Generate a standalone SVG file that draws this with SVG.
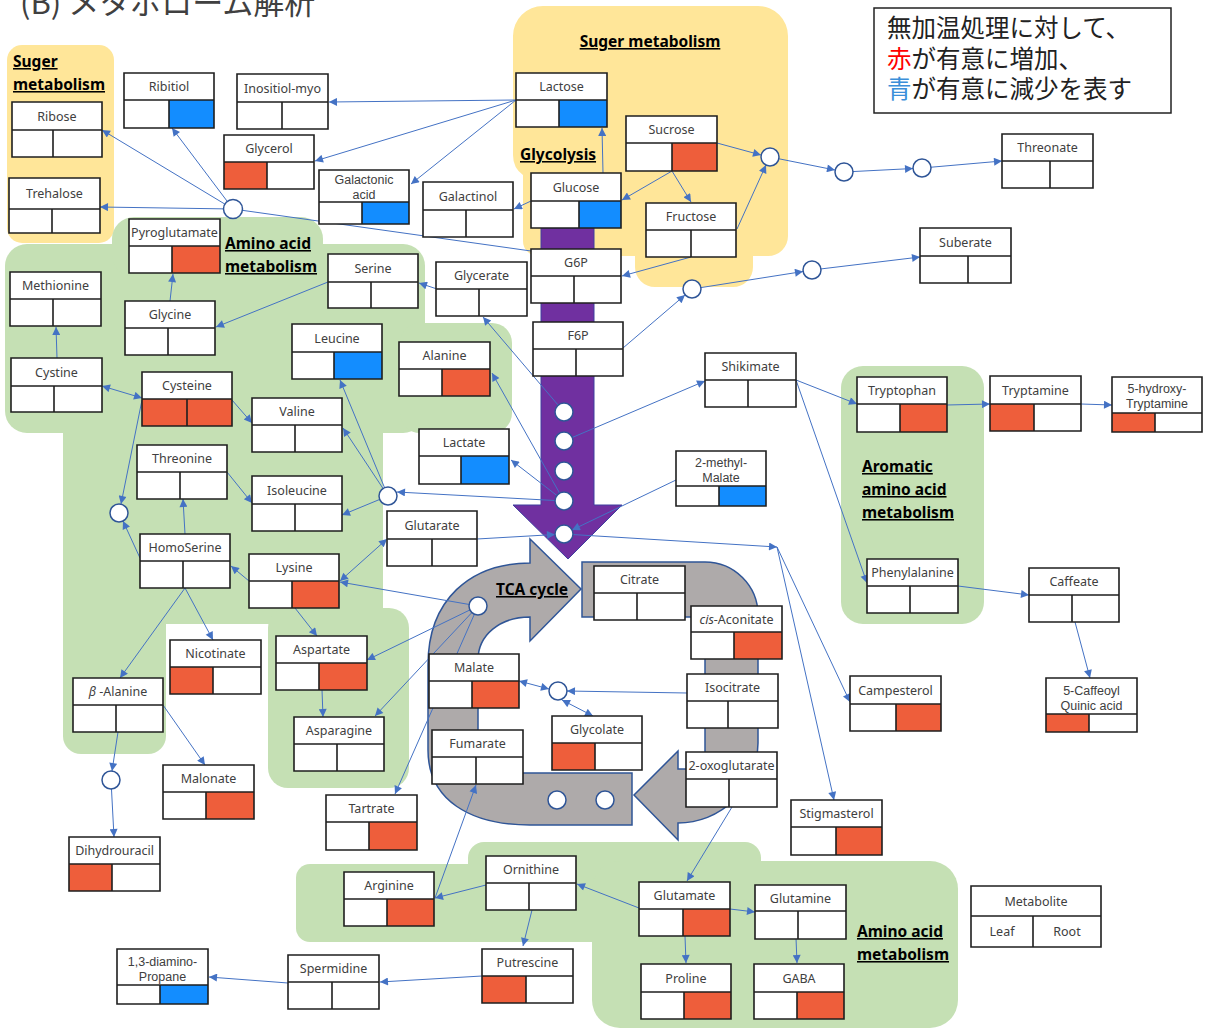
<svg xmlns="http://www.w3.org/2000/svg" width="1205" height="1030" viewBox="0 0 1205 1030">
<defs>
<marker id="ah" viewBox="0 0 10 10" refX="10" refY="5" markerWidth="10" markerHeight="8" markerUnits="userSpaceOnUse" orient="auto-start-reverse"><path d="M0,0 L10,5 L0,10 z" fill="#4472C4"/></marker>
</defs>
<style>
.t{font-family:"Noto Sans","DejaVu Sans",sans-serif;font-size:12.5px;fill:#404040;text-anchor:middle}
.t2{font-family:"Liberation Sans",Arial,sans-serif;font-size:12.5px;fill:#404040;text-anchor:middle}
.w{fill:#fff}
.o{fill:none;stroke:#1f1f1f;stroke-width:1.6}
.r{fill:#EE5E3B}
.u{fill:#138DFF}
.c line{stroke:#4472C4;stroke-width:1;marker-end:url(#ah)}
.c line.bi{marker-start:url(#ah)}
.c line.n{marker-end:none}
.j circle{fill:#fff;stroke:#2F5597;stroke-width:1.5}
.g{font-family:"Noto Sans","DejaVu Sans",sans-serif;font-size:15.5px;font-weight:bold;fill:#000;text-decoration:underline}
.gy{fill:#FFE699}
.gg{fill:#C5E0B4}
.jp{font-family:"Noto Sans CJK JP","Noto Sans CJK SC",sans-serif}
</style>
<rect width="1205" height="1030" fill="#fff"/>
<text class="jp" x="20" y="14" font-size="31" fill="#404040">(B) メタボローム解析</text>
<g id="legend-note">
<rect x="874" y="8" width="297" height="105" fill="#fff" stroke="#222" stroke-width="1.5"/>
<text class="jp" x="887" y="37" font-size="24.5" fill="#222">無加温処理に対して、</text>
<text class="jp" x="887" y="68" font-size="24.5" fill="#222"><tspan fill="#FF0000">赤</tspan>が有意に増加、</text>
<text class="jp" x="887" y="98" font-size="24.5" fill="#222"><tspan fill="#3B8FD9">青</tspan>が有意に減少を表す</text>
</g>
<g id="regions">
<rect class="gy" x="7" y="45" width="107" height="198" rx="15"/>
<path class="gy" d="M543,6 H758 A30,30 0 0 1 788,36 V236 A20,20 0 0 1 768,256 H753 V267 A20,20 0 0 1 733,287 H655 A20,20 0 0 1 635,267 V256 H538 A15,15 0 0 1 523,241 V175 Q513,168 513,155 V36 A30,30 0 0 1 543,6 Z"/>
<rect class="gg" x="5" y="244" width="420" height="189" rx="22"/>
<rect class="gg" x="112" y="217" width="211" height="60" rx="22"/>
<rect class="gg" x="400" y="323" width="112" height="110" rx="20"/>
<rect class="gg" x="63" y="420" width="320" height="204"/>
<rect class="gg" x="63" y="600" width="103" height="154" rx="18"/>
<rect class="gg" x="268" y="608" width="141" height="180" rx="20"/>
<rect class="gg" x="841" y="366" width="143" height="258" rx="22"/>
<rect class="gg" x="296" y="864" width="300" height="78" rx="14"/>
<rect class="gg" x="468" y="842" width="293" height="100" rx="16"/>
<rect class="gg" x="592" y="861" width="366" height="167" rx="28"/>
</g>
<g id="group-labels">
<text class="g" x="13" y="67">Suger</text>
<text class="g" x="13" y="90">metabolism</text>
<text class="g" x="650" y="47" text-anchor="middle">Suger metabolism</text>
<text class="g" x="520" y="160">Glycolysis</text>
<text class="g" x="225" y="249">Amino acid</text>
<text class="g" x="225" y="272">metabolism</text>
<text class="g" x="862" y="472">Aromatic</text>
<text class="g" x="862" y="495">amino acid</text>
<text class="g" x="862" y="518">metabolism</text>
<text class="g" x="857" y="937">Amino acid</text>
<text class="g" x="857" y="960">metabolism</text>
</g>
<g id="pathway-shapes">
<path d="M530,539 L581,589 L530,641 V617 C500,617 478,635 478,660 V773 H632 V825 H530 C470,825 428,800 428,750 V665 C428,600 470,563 530,563 Z" fill="#AEAAAA" stroke="#2F5597" stroke-width="1.5"/>
<path d="M582,562 H705 A53,53 0 0 1 758,615 V743 A80,80 0 0 1 678,823 V840 L634,795 L678,751 V769 H705 V617 H582 Z" fill="#AEAAAA" stroke="#2F5597" stroke-width="1.5"/>
<path d="M541,228 H594 V505 H622 L568,559 L513,505 H541 Z" fill="#7030A0" stroke="#3F3F9F" stroke-width="1"/>
<text class="g" x="496" y="595">TCA cycle</text>
</g>
<g id="connectors" class="c">
<line x1="233" y1="209" x2="102" y2="130"/>
<line x1="233" y1="209" x2="172" y2="128"/>
<line x1="233" y1="209" x2="100" y2="207"/>
<line class="n" x1="531" y1="251" x2="233" y2="209"/>
<line x1="516" y1="100" x2="329" y2="102"/>
<line x1="516" y1="100" x2="315" y2="161"/>
<line x1="516" y1="100" x2="411" y2="184"/>
<line x1="603" y1="173" x2="602" y2="128"/>
<line x1="531" y1="201" x2="514" y2="209"/>
<line x1="672" y1="171" x2="622" y2="200"/>
<line x1="672" y1="171" x2="691" y2="202"/>
<line x1="717" y1="143" x2="761" y2="155"/>
<line x1="737" y1="229" x2="766" y2="165"/>
<line x1="770" y1="157" x2="835" y2="170"/>
<line x1="844" y1="172" x2="913" y2="168.5"/>
<line x1="922" y1="168" x2="1002" y2="161"/>
<line x1="691" y1="257" x2="622" y2="276"/>
<line x1="623" y1="348" x2="685" y2="295"/>
<line x1="692" y1="289" x2="803" y2="271.5"/>
<line x1="812" y1="270" x2="920" y2="257"/>
<line x1="437" y1="289" x2="419" y2="283"/>
<line x1="328" y1="282" x2="216" y2="327"/>
<line x1="170" y1="301" x2="173" y2="274"/>
<line x1="564" y1="412" x2="483" y2="317"/>
<line x1="564" y1="501" x2="492" y2="373"/>
<line x1="564" y1="501" x2="511" y2="460"/>
<line x1="564" y1="501" x2="397" y2="492"/>
<line x1="388" y1="496" x2="340" y2="380"/>
<line x1="388" y1="496" x2="343" y2="428"/>
<line x1="388" y1="496" x2="342" y2="515"/>
<line x1="232" y1="400" x2="252" y2="423"/>
<line class="bi" x1="102" y1="386" x2="142" y2="398"/>
<line x1="57" y1="358" x2="56" y2="327"/>
<line x1="142" y1="400" x2="121" y2="504"/>
<line x1="140" y1="558" x2="123" y2="521"/>
<line x1="185" y1="534" x2="183" y2="499"/>
<line x1="227" y1="472" x2="252" y2="503"/>
<line x1="249" y1="581" x2="231" y2="566"/>
<line class="bi" x1="340" y1="581" x2="387" y2="539"/>
<line x1="478" y1="606" x2="340" y2="582"/>
<line x1="295" y1="608" x2="317" y2="636"/>
<line x1="478" y1="606" x2="367" y2="660"/>
<line x1="478" y1="606" x2="375" y2="716"/>
<line x1="478" y1="606" x2="395" y2="794"/>
<line x1="322" y1="690" x2="323" y2="717"/>
<line x1="185" y1="588" x2="213" y2="640"/>
<line x1="185" y1="588" x2="120" y2="678"/>
<line x1="163" y1="705" x2="205" y2="765"/>
<line x1="118" y1="732" x2="112" y2="771"/>
<line x1="111" y1="780" x2="114" y2="837"/>
<line x1="477" y1="539" x2="555" y2="534.5"/>
<line x1="676" y1="480" x2="572" y2="530"/>
<line x1="564" y1="441" x2="705" y2="381"/>
<line x1="564" y1="534" x2="777" y2="547"/>
<line x1="777" y1="547" x2="850" y2="702"/>
<line x1="777" y1="547" x2="834" y2="800"/>
<line x1="796" y1="380" x2="857" y2="404"/>
<line x1="796" y1="380" x2="867" y2="583"/>
<line x1="947" y1="405" x2="990" y2="404"/>
<line x1="1081" y1="404" x2="1112" y2="405"/>
<line x1="958" y1="586" x2="1029" y2="595"/>
<line x1="1075" y1="622" x2="1090" y2="678"/>
<line class="bi" x1="519" y1="681" x2="549" y2="689"/>
<line x1="687" y1="693" x2="567" y2="691"/>
<line class="bi" x1="562" y1="700" x2="593" y2="716"/>
<line x1="486" y1="885" x2="435" y2="898"/>
<line x1="435" y1="898" x2="476" y2="785"/>
<line x1="639" y1="908" x2="577" y2="884"/>
<line x1="532" y1="910" x2="523" y2="946"/>
<line x1="482" y1="976" x2="380" y2="982"/>
<line x1="288" y1="983" x2="209" y2="977"/>
<line x1="732" y1="807" x2="687" y2="881"/>
<line x1="730" y1="909" x2="755" y2="912"/>
<line x1="685" y1="936" x2="686" y2="963"/>
<line x1="796" y1="938" x2="797" y2="963"/>
</g>
<g id="junctions" class="j">
<circle cx="233" cy="209" r="9.5"/>
<circle cx="770" cy="157" r="9"/>
<circle cx="844" cy="172" r="9"/>
<circle cx="922" cy="168" r="9"/>
<circle cx="692" cy="289" r="9"/>
<circle cx="812" cy="270" r="9"/>
<circle cx="388" cy="496" r="9"/>
<circle cx="119" cy="513" r="9"/>
<circle cx="111" cy="780" r="9"/>
<circle cx="478" cy="606" r="9"/>
<circle cx="558" cy="691" r="9"/>
<circle cx="564" cy="412" r="9"/>
<circle cx="564" cy="441" r="9"/>
<circle cx="564" cy="471" r="9"/>
<circle cx="564" cy="501" r="9"/>
<circle cx="564" cy="534" r="9"/>
<circle cx="557" cy="800" r="9"/>
<circle cx="605" cy="800" r="9"/>
</g>
<g id="nodes">
<g id="ribose"><rect class="w" x="12" y="102" width="90" height="55"/><path class="o" d="M12,102h90v55h-90zM12,130h90M53,130V157"/><text class="t" x="57" y="120.5">Ribose</text></g>
<g id="trehalose"><rect class="w" x="9" y="178" width="91" height="55"/><path class="o" d="M9,178h91v55h-91zM9,209h91M52,209V233"/><text class="t" x="54.5" y="198">Trehalose</text></g>
<g id="ribitiol"><rect class="w" x="124" y="73" width="90" height="55"/><rect class="u" x="169" y="100" width="45" height="28"/><path class="o" d="M124,73h90v55h-90zM124,100h90M169,100V128"/><text class="t" x="169" y="91">Ribitiol</text></g>
<g id="inositiol"><rect class="w" x="237" y="74" width="91" height="55"/><path class="o" d="M237,74h91v55h-91zM237,102h91M282,102V129"/><text class="t" x="282.5" y="92.5">Inositiol-myo</text></g>
<g id="glycerol"><rect class="w" x="224" y="135" width="90" height="54"/><rect class="r" x="224" y="162" width="43" height="27"/><path class="o" d="M224,135h90v54h-90zM224,162h90M267,162V189"/><text class="t" x="269" y="153">Glycerol</text></g>
<g id="galactonic"><rect class="w" x="319" y="170" width="90" height="54"/><rect class="u" x="362" y="202" width="47" height="22"/><path class="o" d="M319,170h90v54h-90zM319,202h90M362,202V224"/><text class="t2" x="364" y="184">Galactonic</text><text class="t2" x="364" y="198.5">acid</text></g>
<g id="pyroglutamate"><rect class="w" x="129" y="219" width="91" height="54"/><rect class="r" x="172" y="246" width="48" height="27"/><path class="o" d="M129,219h91v54h-91zM129,246h91M172,246V273"/><text class="t" x="174.5" y="237">Pyroglutamate</text></g>
<g id="methionine"><rect class="w" x="10" y="272" width="91" height="54"/><path class="o" d="M10,272h91v54h-91zM10,299h91M53,299V326"/><text class="t" x="55.5" y="290">Methionine</text></g>
<g id="glycine"><rect class="w" x="125" y="301" width="90" height="54"/><path class="o" d="M125,301h90v54h-90zM125,328h90M168,328V355"/><text class="t" x="170" y="319">Glycine</text></g>
<g id="serine"><rect class="w" x="328" y="254" width="90" height="54"/><path class="o" d="M328,254h90v54h-90zM328,282h90M371,282V308"/><text class="t" x="373" y="272.5">Serine</text></g>
<g id="leucine"><rect class="w" x="292" y="324" width="90" height="55"/><rect class="u" x="334" y="352" width="48" height="27"/><path class="o" d="M292,324h90v55h-90zM292,352h90M334,352V379"/><text class="t" x="337" y="342.5">Leucine</text></g>
<g id="lactose"><rect class="w" x="516" y="73" width="91" height="54"/><rect class="u" x="559" y="100" width="48" height="27"/><path class="o" d="M516,73h91v54h-91zM516,100h91M559,100V127"/><text class="t" x="561.5" y="91">Lactose</text></g>
<g id="sucrose"><rect class="w" x="626" y="116" width="91" height="55"/><rect class="r" x="672" y="143" width="45" height="28"/><path class="o" d="M626,116h91v55h-91zM626,143h91M672,143V171"/><text class="t" x="671.5" y="134">Sucrose</text></g>
<g id="glucose"><rect class="w" x="531" y="173" width="90" height="55"/><rect class="u" x="579" y="201" width="42" height="27"/><path class="o" d="M531,173h90v55h-90zM531,201h90M579,201V228"/><text class="t" x="576" y="191.5">Glucose</text></g>
<g id="galactinol"><rect class="w" x="423" y="182" width="90" height="55"/><path class="o" d="M423,182h90v55h-90zM423,210h90M466,210V237"/><text class="t" x="468" y="200.5">Galactinol</text></g>
<g id="fructose"><rect class="w" x="646" y="203" width="90" height="54"/><path class="o" d="M646,203h90v54h-90zM646,230h90M691,230V257"/><text class="t" x="691" y="221">Fructose</text></g>
<g id="g6p"><rect class="w" x="531" y="249" width="90" height="54"/><path class="o" d="M531,249h90v54h-90zM531,276h90M574,276V303"/><text class="t" x="576" y="267">G6P</text></g>
<g id="glycerate"><rect class="w" x="436" y="262" width="91" height="54"/><path class="o" d="M436,262h91v54h-91zM436,289h91M479,289V316"/><text class="t" x="481.5" y="280">Glycerate</text></g>
<g id="f6p"><rect class="w" x="533" y="322" width="90" height="54"/><path class="o" d="M533,322h90v54h-90zM533,349h90M576,349V376"/><text class="t" x="578" y="340">F6P</text></g>
<g id="threonate"><rect class="w" x="1002" y="134" width="91" height="54"/><path class="o" d="M1002,134h91v54h-91zM1002,161h91M1050,161V188"/><text class="t" x="1047.5" y="152">Threonate</text></g>
<g id="suberate"><rect class="w" x="920" y="228" width="91" height="55"/><path class="o" d="M920,228h91v55h-91zM920,256h91M968,256V283"/><text class="t" x="965.5" y="246.5">Suberate</text></g>
<g id="cystine"><rect class="w" x="11" y="358" width="91" height="54"/><path class="o" d="M11,358h91v54h-91zM11,386h91M54,386V412"/><text class="t" x="56.5" y="376.5">Cystine</text></g>
<g id="cysteine"><rect class="w" x="142" y="372" width="90" height="54"/><rect class="r" x="142" y="399" width="90" height="27"/><path class="o" d="M142,372h90v54h-90zM142,399h90M187,399V426"/><text class="t" x="187" y="390">Cysteine</text></g>
<g id="valine"><rect class="w" x="252" y="398" width="90" height="54"/><path class="o" d="M252,398h90v54h-90zM252,425h90M295,425V452"/><text class="t" x="297" y="416">Valine</text></g>
<g id="threonine"><rect class="w" x="137" y="445" width="90" height="54"/><path class="o" d="M137,445h90v54h-90zM137,472h90M180,472V499"/><text class="t" x="182" y="463">Threonine</text></g>
<g id="isoleucine"><rect class="w" x="252" y="476" width="90" height="55"/><path class="o" d="M252,476h90v55h-90zM252,504h90M295,504V531"/><text class="t" x="297" y="494.5">Isoleucine</text></g>
<g id="homoserine"><rect class="w" x="140" y="534" width="90" height="54"/><path class="o" d="M140,534h90v54h-90zM140,561h90M183,561V588"/><text class="t" x="185" y="552">HomoSerine</text></g>
<g id="lysine"><rect class="w" x="249" y="554" width="90" height="54"/><rect class="r" x="292" y="581" width="47" height="27"/><path class="o" d="M249,554h90v54h-90zM249,581h90M292,581V608"/><text class="t" x="294" y="572">Lysine</text></g>
<g id="glutarate"><rect class="w" x="387" y="511" width="90" height="55"/><path class="o" d="M387,511h90v55h-90zM387,539h90M432,539V566"/><text class="t" x="432" y="529.5">Glutarate</text></g>
<g id="nicotinate"><rect class="w" x="170" y="640" width="91" height="54"/><rect class="r" x="170" y="667" width="43" height="27"/><path class="o" d="M170,640h91v54h-91zM170,667h91M213,667V694"/><text class="t" x="215.5" y="658">Nicotinate</text></g>
<g id="aspartate"><rect class="w" x="276" y="636" width="91" height="54"/><rect class="r" x="319" y="663" width="48" height="27"/><path class="o" d="M276,636h91v54h-91zM276,663h91M319,663V690"/><text class="t" x="321.5" y="654">Aspartate</text></g>
<g id="alanine"><rect class="w" x="399" y="342" width="91" height="54"/><rect class="r" x="442" y="369" width="48" height="27"/><path class="o" d="M399,342h91v54h-91zM399,369h91M442,369V396"/><text class="t" x="444.5" y="360">Alanine</text></g>
<g id="shikimate"><rect class="w" x="705" y="353" width="91" height="54"/><path class="o" d="M705,353h91v54h-91zM705,380h91M748,380V407"/><text class="t" x="750.5" y="371">Shikimate</text></g>
<g id="lactate"><rect class="w" x="419" y="429" width="90" height="55"/><rect class="u" x="461" y="456" width="48" height="28"/><path class="o" d="M419,429h90v55h-90zM419,456h90M461,456V484"/><text class="t" x="464" y="447">Lactate</text></g>
<g id="methylmalate"><rect class="w" x="676" y="451" width="90" height="55"/><rect class="u" x="719" y="486" width="47" height="20"/><path class="o" d="M676,451h90v55h-90zM676,486h90M719,486V506"/><text class="t2" x="721" y="467">2-methyl-</text><text class="t2" x="721" y="482">Malate</text></g>
<g id="citrate"><rect class="w" x="594" y="566" width="91" height="54"/><path class="o" d="M594,566h91v54h-91zM594,593h91M637,593V620"/><text class="t" x="639.5" y="584">Citrate</text></g>
<g id="cisaconitate"><rect class="w" x="691" y="606" width="91" height="53"/><rect class="r" x="734" y="632" width="48" height="27"/><path class="o" d="M691,606h91v53h-91zM691,632h91M734,632V659"/><text class="t" x="736.5" y="623.5"><tspan font-style="italic">cis</tspan>-Aconitate</text></g>
<g id="malate"><rect class="w" x="429" y="654" width="90" height="54"/><rect class="r" x="472" y="681" width="47" height="27"/><path class="o" d="M429,654h90v54h-90zM429,681h90M472,681V708"/><text class="t" x="474" y="672">Malate</text></g>
<g id="isocitrate"><rect class="w" x="687" y="674" width="91" height="54"/><path class="o" d="M687,674h91v54h-91zM687,701h91M728,701V728"/><text class="t" x="732.5" y="692">Isocitrate</text></g>
<g id="glycolate"><rect class="w" x="552" y="716" width="90" height="54"/><rect class="r" x="552" y="743" width="43" height="27"/><path class="o" d="M552,716h90v54h-90zM552,743h90M595,743V770"/><text class="t" x="597" y="734">Glycolate</text></g>
<g id="fumarate"><rect class="w" x="432" y="730" width="91" height="54"/><path class="o" d="M432,730h91v54h-91zM432,757h91M476,757V784"/><text class="t" x="477.5" y="748">Fumarate</text></g>
<g id="oxoglutarate"><rect class="w" x="686" y="752" width="91" height="55"/><path class="o" d="M686,752h91v55h-91zM686,779h91M729,779V807"/><text class="t" x="731.5" y="770">2-oxoglutarate</text></g>
<g id="tryptophan"><rect class="w" x="857" y="377" width="90" height="55"/><rect class="r" x="900" y="404" width="47" height="28"/><path class="o" d="M857,377h90v55h-90zM857,404h90M900,404V432"/><text class="t" x="902" y="395">Tryptophan</text></g>
<g id="tryptamine"><rect class="w" x="990" y="376" width="91" height="55"/><rect class="r" x="990" y="404" width="44" height="27"/><path class="o" d="M990,376h91v55h-91zM990,404h91M1034,404V431"/><text class="t" x="1035.5" y="394.5">Tryptamine</text></g>
<g id="hydroxytryptamine"><rect class="w" x="1112" y="377" width="90" height="55"/><rect class="r" x="1112" y="413" width="43" height="19"/><path class="o" d="M1112,377h90v55h-90zM1112,413h90M1155,413V432"/><text class="t2" x="1157" y="393">5-hydroxy-</text><text class="t2" x="1157" y="408">Tryptamine</text></g>
<g id="phenylalanine"><rect class="w" x="867" y="559" width="91" height="54"/><path class="o" d="M867,559h91v54h-91zM867,586h91M910,586V613"/><text class="t" x="912.5" y="577">Phenylalanine</text></g>
<g id="caffeate"><rect class="w" x="1029" y="568" width="90" height="54"/><path class="o" d="M1029,568h90v54h-90zM1029,595h90M1072,595V622"/><text class="t" x="1074" y="586">Caffeate</text></g>
<g id="campesterol"><rect class="w" x="850" y="676" width="91" height="55"/><rect class="r" x="896" y="704" width="45" height="27"/><path class="o" d="M850,676h91v55h-91zM850,704h91M896,704V731"/><text class="t" x="895.5" y="694.5">Campesterol</text></g>
<g id="caffeoylquinic"><rect class="w" x="1046" y="678" width="91" height="54"/><rect class="r" x="1046" y="714" width="43" height="18"/><path class="o" d="M1046,678h91v54h-91zM1046,714h91M1089,714V732"/><text class="t2" x="1091.5" y="694.5">5-Caffeoyl</text><text class="t2" x="1091.5" y="709.5">Quinic acid</text></g>
<g id="stigmasterol"><rect class="w" x="791" y="800" width="91" height="55"/><rect class="r" x="836" y="827" width="46" height="28"/><path class="o" d="M791,800h91v55h-91zM791,827h91M836,827V855"/><text class="t" x="836.5" y="818">Stigmasterol</text></g>
<g id="glutamine"><rect class="w" x="755" y="885" width="91" height="54"/><path class="o" d="M755,885h91v54h-91zM755,911h91M798,911V939"/><text class="t" x="800.5" y="902.5">Glutamine</text></g>
<g id="gaba"><rect class="w" x="754" y="964" width="90" height="55"/><rect class="r" x="797" y="992" width="47" height="27"/><path class="o" d="M754,964h90v55h-90zM754,992h90M797,992V1019"/><text class="t" x="799" y="982.5">GABA</text></g>
<g id="ornithine"><rect class="w" x="486" y="856" width="90" height="54"/><path class="o" d="M486,856h90v54h-90zM486,883h90M529,883V910"/><text class="t" x="531" y="874">Ornithine</text></g>
<g id="glutamate"><rect class="w" x="639" y="882" width="91" height="54"/><rect class="r" x="683" y="909" width="47" height="27"/><path class="o" d="M639,882h91v54h-91zM639,909h91M683,909V936"/><text class="t" x="684.5" y="900">Glutamate</text></g>
<g id="putrescine"><rect class="w" x="482" y="949" width="91" height="54"/><rect class="r" x="482" y="976" width="44" height="27"/><path class="o" d="M482,949h91v54h-91zM482,976h91M526,976V1003"/><text class="t" x="527.5" y="967">Putrescine</text></g>
<g id="proline"><rect class="w" x="641" y="964" width="90" height="55"/><rect class="r" x="684" y="992" width="47" height="27"/><path class="o" d="M641,964h90v55h-90zM641,992h90M684,992V1019"/><text class="t" x="686" y="982.5">Proline</text></g>
<g id="arginine"><rect class="w" x="344" y="872" width="90" height="54"/><rect class="r" x="387" y="899" width="47" height="27"/><path class="o" d="M344,872h90v54h-90zM344,899h90M387,899V926"/><text class="t" x="389" y="890">Arginine</text></g>
<g id="betaalanine"><rect class="w" x="73" y="678" width="90" height="54"/><path class="o" d="M73,678h90v54h-90zM73,705h90M116,705V732"/><text class="t" x="118" y="696"><tspan font-style="italic">β</tspan> -Alanine</text></g>
<g id="malonate"><rect class="w" x="163" y="765" width="91" height="54"/><rect class="r" x="206" y="792" width="48" height="27"/><path class="o" d="M163,765h91v54h-91zM163,792h91M206,792V819"/><text class="t" x="208.5" y="783">Malonate</text></g>
<g id="dihydrouracil"><rect class="w" x="69" y="837" width="91" height="54"/><rect class="r" x="69" y="864" width="43" height="27"/><path class="o" d="M69,837h91v54h-91zM69,864h91M112,864V891"/><text class="t" x="114.5" y="855">Dihydrouracil</text></g>
<g id="asparagine"><rect class="w" x="294" y="717" width="90" height="54"/><path class="o" d="M294,717h90v54h-90zM294,744h90M337,744V771"/><text class="t" x="339" y="735">Asparagine</text></g>
<g id="tartrate"><rect class="w" x="326" y="795" width="91" height="55"/><rect class="r" x="369" y="822" width="48" height="28"/><path class="o" d="M326,795h91v55h-91zM326,822h91M369,822V850"/><text class="t" x="371.5" y="813">Tartrate</text></g>
<g id="diaminopropane"><rect class="w" x="117" y="949" width="91" height="55"/><rect class="u" x="160" y="985" width="48" height="19"/><path class="o" d="M117,949h91v55h-91zM117,985h91M160,985V1004"/><text class="t2" x="162.5" y="965.5">1,3-diamino-</text><text class="t2" x="162.5" y="980.5">Propane</text></g>
<g id="spermidine"><rect class="w" x="288" y="955" width="91" height="54"/><path class="o" d="M288,955h91v54h-91zM288,982h91M332,982V1009"/><text class="t" x="333.5" y="973">Spermidine</text></g>
<g id="legend-metabolite"><rect class="w" x="971" y="886" width="130" height="61"/><path class="o" d="M971,886h130v61h-130zM971,916h130M1033,916V947"/><text class="t" x="1036" y="905.5">Metabolite</text><text class="t" x="1002" y="936">Leaf</text><text class="t" x="1067" y="936">Root</text></g>
</g>
</svg>
